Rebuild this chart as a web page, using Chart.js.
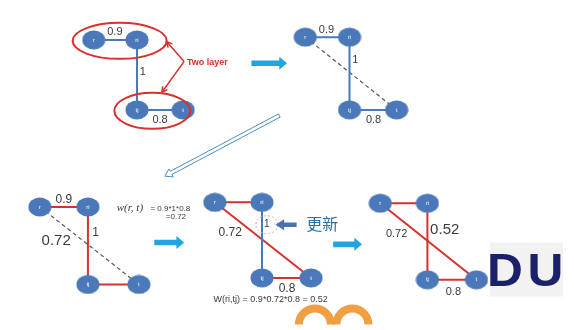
<!DOCTYPE html>
<html><head><meta charset="utf-8">
<script src="https://cdn.jsdelivr.net/npm/chart.js@4"></script>
<style>html,body{margin:0;padding:0;background:#fff}#wrap{width:574px;height:330px}</style>
</head><body><div id="wrap"><canvas id="c" width="574" height="330"></canvas></div>
<script>
// ---- data ----
const nodeNames = ['r', 'ri', 'tj', 't'];
const p1X = [86, 131, 131, 179], p1Y = [31, 31, 106, 106];
const p2X = [306, 352, 352, 401], p2Y = [28, 28, 106, 106];
const p3X = [30, 80, 80, 133], p3Y = [210, 210, 293, 293];
const p4X = [212, 261, 261, 312], p4Y = [205, 205, 286, 286];
const p5X = [384, 433, 433, 484], p5Y = [206, 206, 288, 288];
// edges: [from, to]
const edgeRRi = [0, 1], edgeRiTj = [1, 2], edgeTjT = [2, 3], edgeRT = [0, 3];
const weightsTop = ['0.9', '1', '0.8'];
const weightRT = '0.72';
const weightNew = '0.52';
const formula1 = ['w(r, t)', '= 0.9*1*0.8', '=0.72'];
const formula2 = 'W(ri,tj) = 0.9*0.72*0.8 = 0.52';
const updateLabel = '更新';
const layerLabel = 'Two layer';

const BLUE = '#4a78b8', RED = '#d8302c', DASH = '#555555', TXT = '#3a3a3a', ARROW = '#1fa5e0';

function pts(X, Y, e) { return e.map(i => ({x: X[i], y: Y[i]})); }
function edge(X, Y, e, color, dashed, w) {
  return {type: 'line', data: pts(X, Y, e), borderColor: color, borderWidth: w || 2,
    borderDash: dashed ? [4, 3] : [], pointRadius: 0, fill: false, order: 2, showLine: true};
}
const nodeImg = document.createElement('canvas');
nodeImg.width = 24; nodeImg.height = 20;
(function(){const g = nodeImg.getContext('2d'); g.fillStyle = BLUE; g.beginPath(); g.ellipse(12, 10, 11.5, 9.5, 0, 0, Math.PI*2); g.fill();})();
function nodes(X, Y) {
  return {type: 'scatter', data: X.map((x, i) => ({x: x, y: Y[i]})), pointStyle: nodeImg,
    pointRadius: 10, order: 0};
}
const datasets = [
  edge(p1X, p1Y, edgeRRi, BLUE), edge(p1X, p1Y, edgeRiTj, BLUE), edge(p1X, p1Y, edgeTjT, BLUE),
  edge(p2X, p2Y, edgeRRi, BLUE), edge(p2X, p2Y, edgeRiTj, BLUE), edge(p2X, p2Y, edgeTjT, BLUE), edge(p2X, p2Y, edgeRT, DASH, true, 1.2),
  edge(p3X, p3Y, edgeRRi, RED), edge(p3X, p3Y, edgeRiTj, RED), edge(p3X, p3Y, edgeTjT, RED), edge(p3X, p3Y, edgeRT, DASH, true, 1.2),
  edge(p4X, p4Y, edgeRRi, RED), edge(p4X, p4Y, edgeRiTj, BLUE), edge(p4X, p4Y, edgeTjT, RED), edge(p4X, p4Y, edgeRT, RED),
  edge(p5X, p5Y, edgeRRi, RED), edge(p5X, p5Y, edgeRiTj, RED), edge(p5X, p5Y, edgeTjT, RED), edge(p5X, p5Y, edgeRT, RED),
  nodes(p1X, p1Y), nodes(p2X, p2Y), nodes(p3X, p3Y), nodes(p4X, p4Y), nodes(p5X, p5Y)
];

const deco = {
  id: 'deco',
  beforeDatasetsDraw(chart) {
    const c = chart.ctx, sx = chart.scales.x, sy = chart.scales.y;
    const X = v => sx.getPixelForValue(v), Y = v => sy.getPixelForValue(v);
    c.save();
    // DU logo background
    c.fillStyle = '#f2f2f2'; c.fillRect(X(498), Y(248), X(574) - X(498), Y(306) - Y(248));
    // orange watermark arcs
    c.strokeStyle = '#f0a043'; c.lineWidth = 8;
    [[316, 336], [355, 336]].forEach(p => { c.beginPath(); c.arc(X(p[0]), Y(p[1]), 16, Math.PI, 2*Math.PI); c.stroke(); });
    c.restore();
  },
  afterDatasetsDraw(chart) {
    const c = chart.ctx, sx = chart.scales.x, sy = chart.scales.y;
    const X = v => sx.getPixelForValue(v), Y = v => sy.getPixelForValue(v);
    c.save();
    // node labels
    c.fillStyle = '#ffffff'; c.font = '6px "Liberation Sans", Arial'; c.textAlign = 'center'; c.textBaseline = 'middle';
    [[p1X, p1Y], [p2X, p2Y], [p3X, p3Y], [p4X, p4Y], [p5X, p5Y]].forEach(([PX, PY]) => {
      nodeNames.forEach((n, i) => c.fillText(n, X(PX[i]), Y(PY[i])));
    });
    // red ellipses panel 1
    c.strokeStyle = RED; c.lineWidth = 2;
    c.beginPath(); c.ellipse(X(113), Y(32), 47, 18, 0, 0, Math.PI*2); c.stroke();
    c.beginPath(); c.ellipse(X(147), Y(107), 38, 18, 0, 0, Math.PI*2); c.stroke();
    // two layer arrows
    function arrowLine(x0, y0, x1, y1, col, w, hs) {
      c.strokeStyle = col; c.fillStyle = col; c.lineWidth = w;
      c.beginPath(); c.moveTo(x0, y0); c.lineTo(x1, y1); c.stroke();
      const a = Math.atan2(y1 - y0, x1 - x0);
      c.beginPath(); c.moveTo(x1, y1);
      c.lineTo(x1 - hs*Math.cos(a - 0.5), y1 - hs*Math.sin(a - 0.5));
      c.moveTo(x1, y1);
      c.lineTo(x1 - hs*Math.cos(a + 0.5), y1 - hs*Math.sin(a + 0.5)); c.stroke();
    }
    arrowLine(X(180), Y(54), X(162), Y(33), RED, 1.5, 6);
    arrowLine(X(180), Y(54), X(157), Y(87), RED, 1.5, 6);
    c.fillStyle = RED; c.font = 'bold 9px "Liberation Sans", Arial'; c.textAlign = 'left';
    c.fillText(layerLabel, X(183), Y(55));
    // weight labels
    function t(s, x, y, size, col, align) {
      c.fillStyle = col || TXT; c.font = size + 'px "Liberation Sans", Arial'; c.textAlign = align || 'center'; c.textBaseline = 'middle';
      c.fillText(s, X(x), Y(y));
    }
    t(weightsTop[0], 108, 22, 11); t(weightsTop[1], 137, 65, 11); t(weightsTop[2], 155, 117, 11);
    t(weightsTop[0], 328, 20, 11); t(weightsTop[1], 358, 53, 11); t(weightsTop[2], 377, 117, 11);
    t(weightsTop[0], 55, 202, 12); t(weightsTop[1], 88, 237, 12); t(weightRT, 47, 246, 15);
    t(weightRT, 228, 237, 12); t(weightsTop[1], 266, 229, 10); t(weightsTop[2], 287, 297, 12);
    t(weightRT, 401, 239, 11); t(weightNew, 451, 235, 15); t(weightsTop[2], 460, 301, 11);
    // formulas
    c.fillStyle = TXT; c.font = 'italic 11px "Liberation Serif", "Times New Roman"'; c.textAlign = 'left'; c.textBaseline = 'middle';
    c.fillText(formula1[0], X(110), Y(211));
    c.font = '8px "Liberation Sans", Arial';
    c.fillText(formula1[1], X(145), Y(212));
    c.fillText(formula1[2], X(161), Y(221));
    t(formula2, 270, 309, 9);
    // dashed circle around "1"
    c.strokeStyle = '#e0a0a0'; c.lineWidth = 1; c.setLineDash([2, 2]);
    c.beginPath(); c.ellipse(X(266), Y(229), 11, 9, 0, 0, Math.PI*2); c.stroke();
    c.setLineDash([]);
    // left-pointing blue arrow
    c.fillStyle = '#4a72b2';
    c.beginPath(); c.moveTo(X(297), Y(226.5)); c.lineTo(X(284), Y(226.5)); c.lineTo(X(284), Y(223));
    c.lineTo(X(275), Y(229)); c.lineTo(X(284), Y(235)); c.lineTo(X(284), Y(231.5)); c.lineTo(X(297), Y(231.5)); c.closePath(); c.fill();
    // 更新
    c.fillStyle = '#2f6e9e'; c.font = '16px "Noto Sans CJK SC"'; c.textAlign = 'left'; c.textBaseline = 'middle';
    c.fillText(updateLabel, X(307), Y(228));
    // thick cyan arrows
    function fat(x0, x1, y) {
      c.fillStyle = ARROW; c.beginPath();
      c.moveTo(X(x0), Y(y - 3)); c.lineTo(X(x1 - 8), Y(y - 3)); c.lineTo(X(x1 - 8), Y(y - 7));
      c.lineTo(X(x1), Y(y)); c.lineTo(X(x1 - 8), Y(y + 7)); c.lineTo(X(x1 - 8), Y(y + 3)); c.lineTo(X(x0), Y(y + 3));
      c.closePath(); c.fill();
    }
    fat(250, 287, 56); fat(149, 180, 248); fat(335, 365, 250);
    // hollow double arrow
    const ax0 = X(279), ay0 = Y(112), ax1 = X(160), ay1 = Y(177);
    const ang = Math.atan2(ay1 - ay0, ax1 - ax0), nx = -Math.sin(ang), ny = Math.cos(ang);
    const hb = 7, hw = 4.5, sw = 1.8;
    const bx = ax1 - hb*Math.cos(ang), by = ay1 - hb*Math.sin(ang);
    c.strokeStyle = '#4a8fc0'; c.fillStyle = '#ffffff'; c.lineWidth = 1;
    c.beginPath();
    c.moveTo(ax0 + nx*sw, ay0 + ny*sw); c.lineTo(bx + nx*sw, by + ny*sw); c.lineTo(bx + nx*hw, by + ny*hw);
    c.lineTo(ax1, ay1); c.lineTo(bx - nx*hw, by - ny*hw); c.lineTo(bx - nx*sw, by - ny*sw);
    c.lineTo(ax0 - nx*sw, ay0 - ny*sw); c.closePath(); c.fill(); c.stroke();
    // DU logo
    c.fillStyle = '#1b2168'; c.font = 'bold 46px "Liberation Sans", Arial'; c.textAlign = 'left'; c.textBaseline = 'alphabetic';
    c.save(); c.translate(X(495), Y(295)); c.scale(1.08, 1); c.fillText('D', 0, 0); c.restore();
    c.save(); c.translate(X(537), Y(295)); c.scale(1.08, 1); c.fillText('U', 0, 0); c.restore();
    c.restore();
  }
};

new Chart(document.getElementById('c'), {
  type: 'scatter',
  data: {datasets: datasets},
  options: {
    responsive: false, animation: false, devicePixelRatio: 1,
    layout: {padding: 0},
    plugins: {legend: {display: false}, tooltip: {enabled: false}},
    scales: {
      x: {type: 'linear', min: 0, max: 574, display: false},
      y: {type: 'linear', min: 0, max: 330, reverse: true, display: false}
    }
  },
  plugins: [deco]
});
</script></body></html>
